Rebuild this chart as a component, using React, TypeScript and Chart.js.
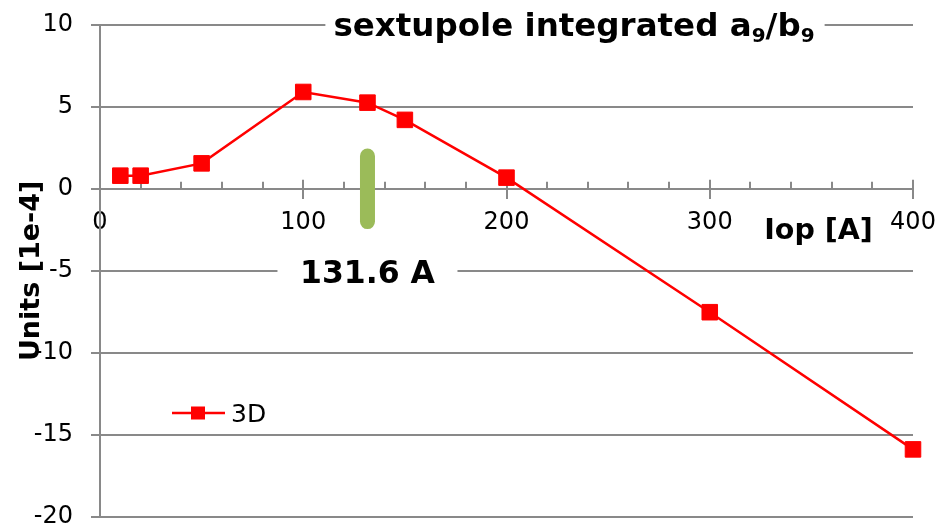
import { useEffect, useRef } from "react";
import { Chart, registerables } from "chart.js";

Chart.register(...registerables);

// ---- data ----
const currents = [10, 20, 50, 100, 131.6, 150, 200, 300, 400];
const units3D = [0.8, 0.8, 1.55, 5.9, 5.25, 4.2, 0.68, -7.52, -15.88];
const seriesName = "3D";
const markerCurrent = 131.6;
const markerSpan = [-2, 2];
const markerLabel = "131.6 A";
const markerLabelLevel = -5;
const xRange = [0, 400];
const xMajorStep = 100;
const xMinorStep = 20;
const yRange = [-20, 10];
const yStep = 5;
const titleMain = ["sextupole integrated a", "/b"];
const titleSub = ["9", "9"];
const xTitle = "Iop [A]";
const yTitle = "Units [1e-4]";

const GRID = "#898989";
const RED = "#ff0000";
const GREEN = "#9bbb59";
const FONT = "DejaVu Sans, Verdana, sans-serif";

const overlay = {
  id: "overlay",
  beforeDatasetsDraw(chart: any) {
    const ctx = chart.ctx;
    const xs = chart.scales.x;
    const ys = chart.scales.y;
    const y0 = ys.getPixelForValue(0);
    ctx.save();
    ctx.strokeStyle = GRID;
    ctx.lineWidth = 2;
    for (let v = xRange[0]; v <= xRange[1]; v += xMinorStep) {
      const px = Math.round(xs.getPixelForValue(v));
      const major = v % xMajorStep === 0;
      ctx.beginPath();
      ctx.moveTo(px, y0);
      ctx.lineTo(px, y0 - (major ? 9 : 7));
      ctx.stroke();
    }
    ctx.restore();
  },
  afterDraw(chart: any) {
    const ctx = chart.ctx;
    const xs = chart.scales.x;
    const ys = chart.scales.y;
    ctx.save();

    // title with subscripts
    const mainFont = `bold 32.5px ${FONT}`;
    const subFont = `bold 20px ${FONT}`;
    ctx.font = mainFont;
    const w0 = ctx.measureText(titleMain[0]).width;
    const w2 = ctx.measureText(titleMain[1]).width;
    ctx.font = subFont;
    const w1 = ctx.measureText(titleSub[0]).width;
    const w3 = ctx.measureText(titleSub[1]).width;
    const total = w0 + w1 + w2 + w3;
    const cx = 574;
    const left = cx - total / 2;
    const base = 36;
    ctx.fillStyle = "#ffffff";
    ctx.fillRect(left - 8, 6, total + 18, 38);
    ctx.fillStyle = "#000000";
    ctx.textAlign = "left";
    ctx.textBaseline = "alphabetic";
    let x = left;
    ctx.font = mainFont;
    ctx.fillText(titleMain[0], x, base);
    x += w0;
    ctx.font = subFont;
    ctx.fillText(titleSub[0], x, base + 6);
    x += w1;
    ctx.font = mainFont;
    ctx.fillText(titleMain[1], x, base);
    x += w2;
    ctx.font = subFont;
    ctx.fillText(titleSub[1], x, base + 6);

    // marker label
    const mx = xs.getPixelForValue(markerCurrent);
    const my = ys.getPixelForValue(markerLabelLevel);
    ctx.fillStyle = "#ffffff";
    ctx.fillRect(mx - 90, my - 16, 180, 32);
    ctx.fillStyle = "#000000";
    ctx.font = `bold 31.5px ${FONT}`;
    ctx.textAlign = "center";
    ctx.fillText(markerLabel, mx, my + 12.6);

    // x title
    ctx.font = `bold 28.5px ${FONT}`;
    ctx.textAlign = "center";
    ctx.fillText(xTitle, 818.5, 238.5);

    // y title
    ctx.save();
    ctx.font = `bold 27px ${FONT}`;
    ctx.translate(39, (chart.chartArea.top + chart.chartArea.bottom) / 2);
    ctx.rotate(-Math.PI / 2);
    ctx.textAlign = "center";
    ctx.fillText(yTitle, 0, 0);
    ctx.restore();

    // legend
    const ly = 413;
    ctx.strokeStyle = RED;
    ctx.lineWidth = 2.5;
    ctx.beginPath();
    ctx.moveTo(172, ly);
    ctx.lineTo(225, ly);
    ctx.stroke();
    ctx.fillStyle = RED;
    ctx.fillRect(198 - 7, ly - 6.5, 14, 13);
    ctx.fillStyle = "#000000";
    ctx.font = `25px ${FONT}`;
    ctx.textAlign = "left";
    ctx.fillText(seriesName, 231, 422);

    ctx.restore();
  },
};

export default function App() {
  const ref = useRef<HTMLCanvasElement | null>(null);
  useEffect(() => {
    if (!ref.current) return;
    Chart.defaults.font.family = FONT;
    const chart = new Chart(ref.current, {
      type: "line",
      data: {
        datasets: [
          {
            label: seriesName,
            data: currents.map((c, i) => ({ x: c, y: units3D[i] })),
            borderColor: RED,
            backgroundColor: RED,
            borderWidth: 2.5,
            pointStyle: "rect",
            pointRadius: 11,
            pointBorderWidth: 1,
            tension: 0,
            clip: false,
          },
          {
            label: "marker",
            data: markerSpan.map((v) => ({ x: markerCurrent, y: v })),
            borderColor: GREEN,
            borderWidth: 15,
            borderCapStyle: "round",
            pointRadius: 0,
            clip: false,
          },
        ],
      },
      options: {
        animation: false,
        responsive: true,
        maintainAspectRatio: false,
        layout: { padding: { left: 0, right: 28, top: 24.7, bottom: 12 } },
        plugins: {
          legend: { display: false },
          title: { display: false },
          tooltip: { enabled: false },
        },
        scales: {
          x: {
            type: "linear",
            position: { y: 0 } as any,
            min: xRange[0],
            max: xRange[1],
            ticks: {
              stepSize: xMajorStep,
              color: "#000000",
              font: { size: 24 },
              padding: 11,
              maxRotation: 0,
            },
            grid: {
              drawOnChartArea: false,
              drawTicks: true,
              tickLength: 9,
              color: GRID,
              lineWidth: 2,
            },
            border: { display: true, color: GRID, width: 2 },
            afterFit: (scale: any) => {
              scale.paddingLeft = 0;
              scale.paddingRight = 0;
            },
          },
          y: {
            type: "linear",
            position: "left",
            min: yRange[0],
            max: yRange[1],
            ticks: {
              stepSize: yStep,
              color: "#000000",
              font: { size: 24 },
              padding: 18,
            },
            grid: {
              color: GRID,
              lineWidth: 2,
              drawTicks: true,
              tickLength: 9,
            },
            border: { display: true, color: GRID, width: 2 },
            afterFit: (scale: any) => {
              scale.width = 100;
              scale.paddingTop = 0;
              scale.paddingBottom = 0;
            },
          },
        },
      },
      plugins: [overlay],
    });
    return () => chart.destroy();
  }, []);
  return (
    <div style={{ position: "fixed", left: 0, top: 0, width: 941, height: 529, background: "#fff" }}>
      <canvas ref={ref} />
    </div>
  );
}
